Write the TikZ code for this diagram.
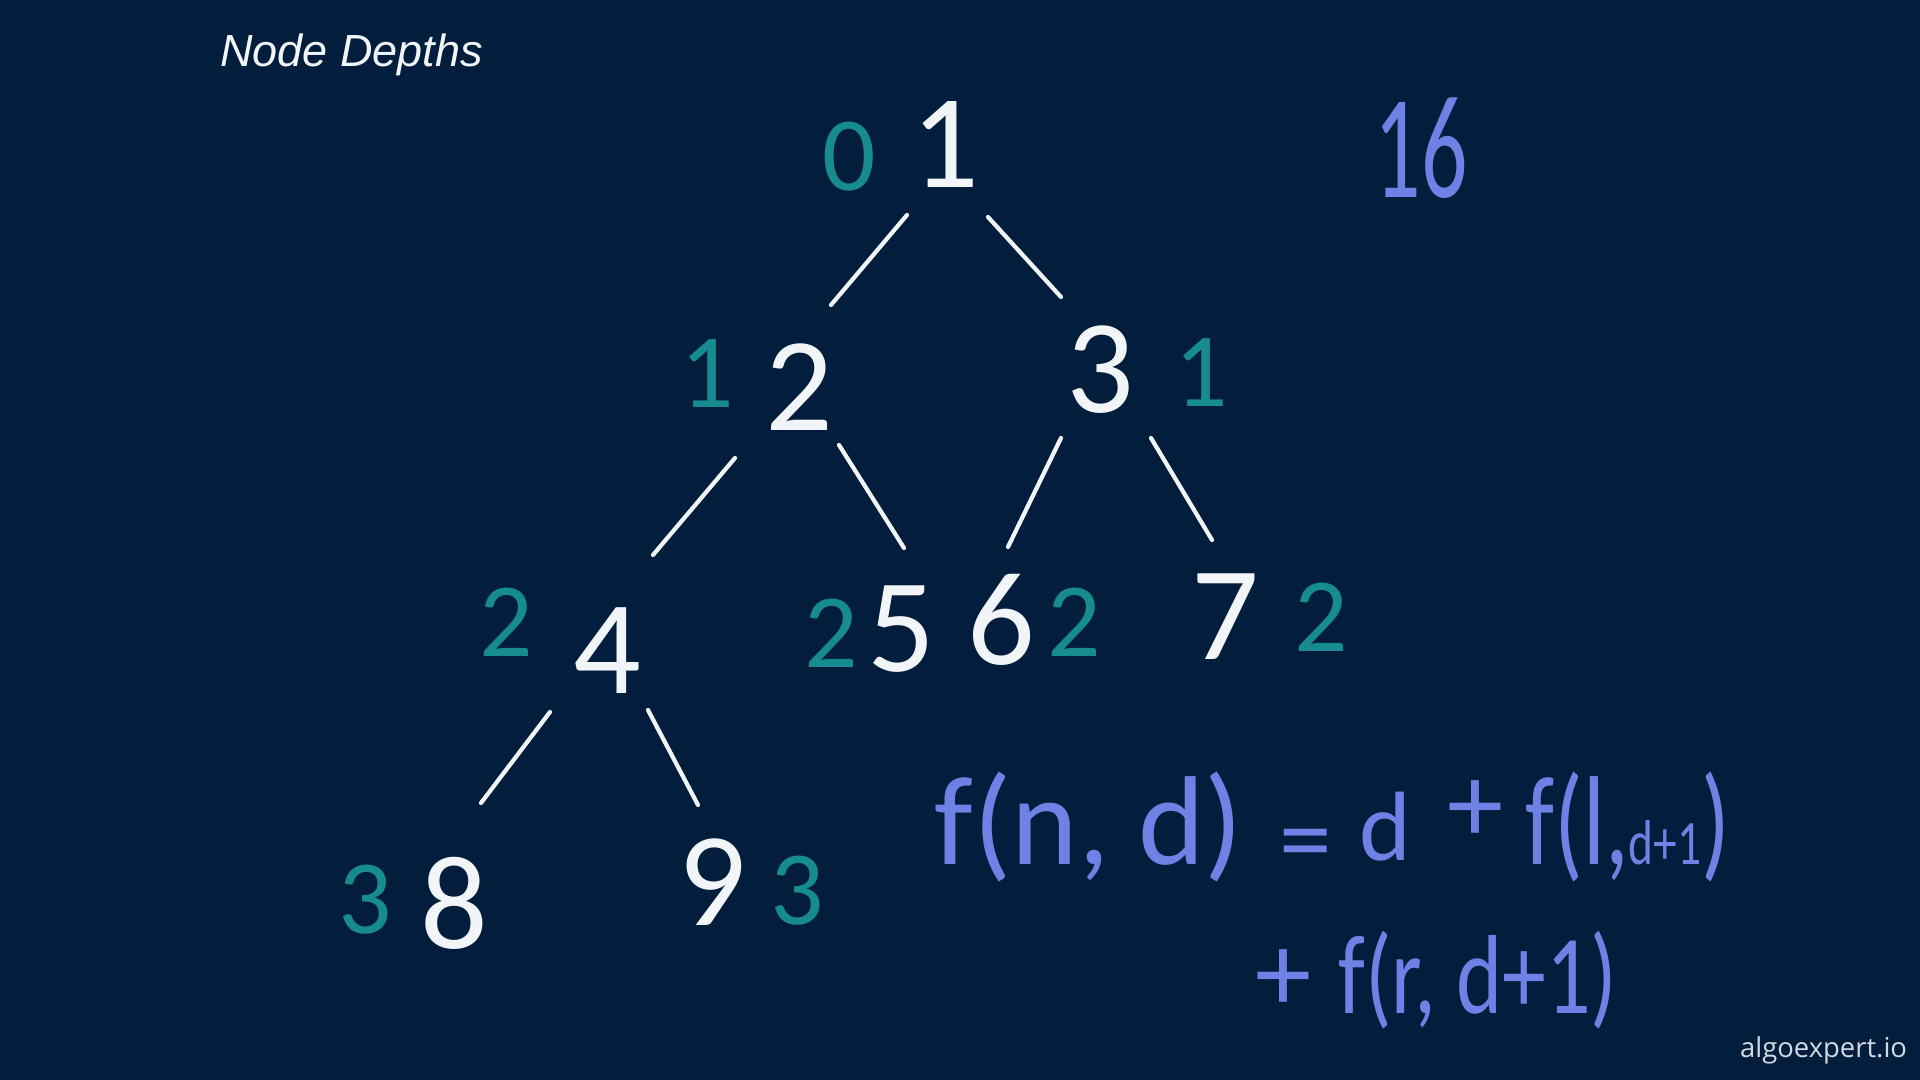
\documentclass[tikz,border=0pt]{standalone}
\usepackage{fontspec}
\setmainfont{Carlito}
\newfontfamily\titlefont{Liberation Sans}
\newfontfamily\markfont{Open Sans}
\definecolor{bg}{RGB}{2,30,60}
\definecolor{chalk}{RGB}{242,245,248}
\definecolor{tealink}{RGB}{22,140,145}
\definecolor{blueink}{RGB}{110,130,230}
\definecolor{markgrey}{RGB}{208,216,226}
\begin{document}
\begin{tikzpicture}[x=0.01cm,y=-0.01cm,
  every node/.style={inner sep=0pt, outer sep=0pt},
  tnode/.style={text=chalk, font=\fontsize{38}{40}\selectfont},
  depthlbl/.style={text=tealink, font=\fontsize{30}{32}\selectfont},
  formula/.style={text=blueink, font=\fontsize{36}{40}\selectfont},
  branch/.style={draw=chalk, line width=1.2pt, line cap=round}]
\fill[bg] (0,0) rectangle (1920,1080);
\useasboundingbox (0,0) rectangle (1920,1080);

% title and watermark
\node[anchor=base west, text=chalk, font=\titlefont\itshape\fontsize{12.8}{15}\selectfont] (title) at (220,67) {Node Depths};
\node[anchor=base east, text=markgrey, font=\markfont\fontsize{7.8}{9}\selectfont] (mark) at (1907,1058) {algoexpert.io};

% tree nodes
\node[tnode] (n1) at (945,145) {1};
\node[tnode] (n2) at (799,387) {2};
\node[tnode] (n3) at (1100,370) {3};
\node[tnode] (n4) at (607,651) {4};
\node[tnode] (n5) at (901,629) {5};
\node[tnode] (n6) at (1001,620) {6};
\node[tnode] (n7) at (1225,617) {7};
\node[tnode] (n8) at (454,903) {8};
\node[tnode] (n9) at (712,882) {9};

% depth labels
\node[depthlbl] (d1) at (849,157) {0};
\node[depthlbl] (d2) at (707,374) {1};
\node[depthlbl] (d3) at (1201,373) {1};
\node[depthlbl] (d4) at (506,622) {2};
\node[depthlbl] (d5) at (831,633) {2};
\node[depthlbl] (d6) at (1074,622) {2};
\node[depthlbl] (d7) at (1321,617) {2};
\node[depthlbl] (d8) at (365,900) {3};
\node[depthlbl] (d9) at (797,891) {3};

% sum
\node[text=blueink, font=\fontsize{42}{46}\selectfont] (total) at (1421,148) {\scalebox{0.62}[1]{16}};

% branches
\draw[branch] ([shift={(-38,70)}]n1.center) -- ([shift={(32,-82)}]n2.center);
\draw[branch] ([shift={(43,72)}]n1.center) -- ([shift={(-39,-73)}]n3.center);
\draw[branch] ([shift={(-64,71)}]n2.center) -- ([shift={(46,-96)}]n4.center);
\draw[branch] ([shift={(40,58)}]n2.center) -- ([shift={(3,-81)}]n5.center);
\draw[branch] ([shift={(-39,68)}]n3.center) -- ([shift={(7,-73)}]n6.center);
\draw[branch] ([shift={(51,68)}]n3.center) -- ([shift={(-13,-77)}]n7.center);
\draw[branch] ([shift={(-57,61)}]n4.center) -- ([shift={(27,-100)}]n8.center);
\draw[branch] ([shift={(41,59)}]n4.center) -- ([shift={(-14,-77)}]n9.center);

% recurrence
\node[formula] (fa) at (1089,827) {f(n, d)};
\node[formula, font=\fontsize{30}{34}\selectfont] (feq) at (1306,852) {=};
\node[formula, font=\fontsize{28}{32}\selectfont] (fd) at (1385,827) {d};
\node[formula, font=\fontsize{32}{36}\selectfont] (fplus) at (1476,812) {+};
\node[formula] (fb) at (1628,827) {\scalebox{0.75}[1]{f(l,{\fontsize{18}{20}\selectfont d+1})}};
\node[formula, font=\fontsize{32}{36}\selectfont] (gplus) at (1284,981) {+};
\node[formula, font=\fontsize{32}{36}\selectfont] (gb) at (1478,980) {\scalebox{0.78}[1]{f(r, d+1)}};
\end{tikzpicture}
\end{document}
